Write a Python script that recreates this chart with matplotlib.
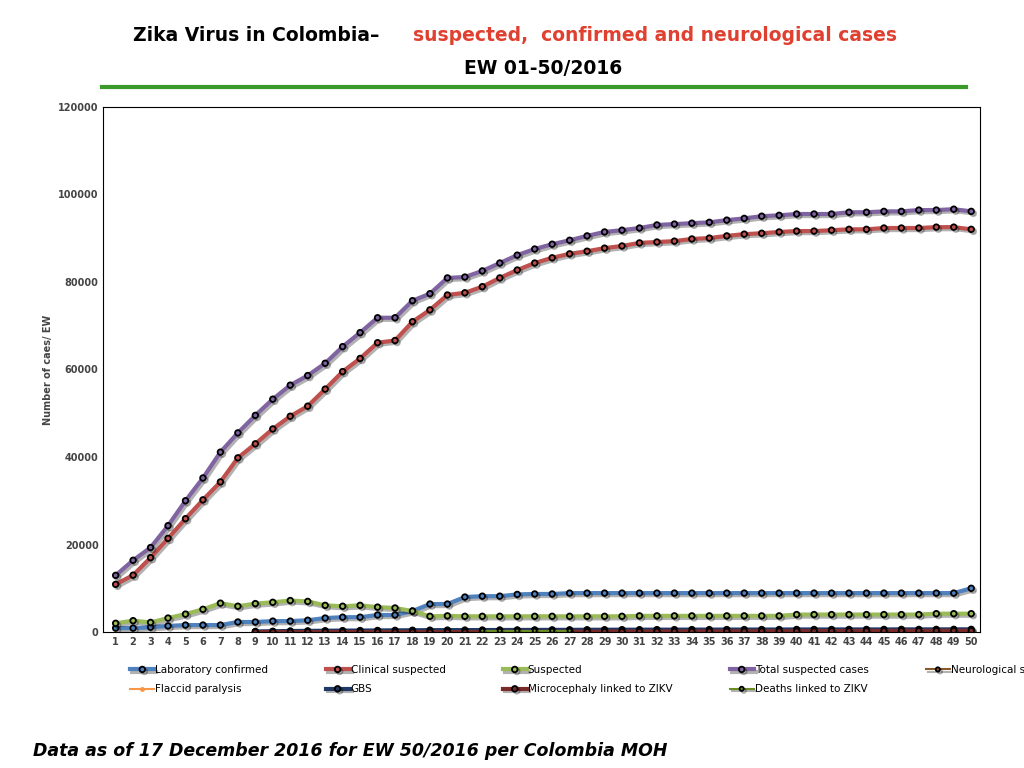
import matplotlib.pyplot as plt
import matplotlib.patheffects as pe

weeks = list(range(1, 51))
lab_confirmed = [900, 900, 1100, 1400, 1600, 1600, 1600, 2300, 2300, 2500,
                 2500, 2700, 3200, 3400, 3400, 3900, 3900, 4800, 6400, 6400,
                 8000, 8200, 8200, 8600, 8700, 8700, 8900, 8900, 8900, 8900,
                 8900, 8900, 8900, 8900, 8900, 8900, 8900, 8900, 8900, 8900,
                 8900, 8900, 8900, 8900, 8900, 8900, 8900, 8900, 8900, 10000]
clinical = [10900, 13000, 17000, 21400, 25900, 30200, 34300, 39800, 43000, 46400,
            49300, 51600, 55500, 59500, 62500, 66100, 66600, 70900, 73600, 77000,
            77500, 78900, 80900, 82700, 84300, 85500, 86400, 87000, 87700, 88200,
            88900, 89100, 89300, 89800, 90000, 90500, 90900, 91100, 91400, 91600,
            91600, 91800, 92000, 92000, 92300, 92300, 92300, 92500, 92500, 92000]
suspected = [2000, 2600, 2200, 3200, 4100, 5200, 6600, 5900, 6500, 6800,
             7200, 7000, 6100, 5900, 6100, 5700, 5500, 4800, 3600, 3700,
             3600, 3600, 3600, 3600, 3600, 3600, 3600, 3600, 3600, 3600,
             3700, 3700, 3700, 3700, 3700, 3700, 3700, 3700, 3700, 4000,
             4000, 4000, 4000, 4000, 4000, 4000, 4000, 4200, 4200, 4200]
total_suspected = [12950, 16400, 19300, 24300, 30000, 35200, 41100, 45500, 49500, 53200,
                   56400, 58600, 61400, 65200, 68400, 71800, 71800, 75700, 77300, 80900,
                   81100, 82500, 84300, 86100, 87500, 88600, 89500, 90500, 91400, 91800,
                   92300, 93000, 93200, 93400, 93600, 94100, 94500, 95000, 95200, 95500,
                   95500, 95500, 95900, 95900, 96100, 96100, 96400, 96400, 96600, 96100]
neuro_weeks = list(range(9, 51))
neurological = [200, 250, 300, 330, 360, 390, 410, 430, 450, 470, 490, 500, 510, 520,
                530, 540, 550, 560, 570, 580, 590, 600, 600, 610, 610, 620, 620, 630,
                630, 640, 640, 650, 650, 650, 660, 660, 660, 670, 670, 670, 680, 680]
gbs = [v - 60 for v in neurological]
microcephaly = [0, 0, 0, 0, 0, 0, 0, 0, 0, 0, 0, 0, 0, 20, 30, 40, 50, 60, 70, 80, 90,
                100, 110, 120, 130, 140, 150, 160, 170, 180, 190, 200, 210, 220, 230,
                240, 250, 260, 270, 280, 290, 300]
deaths_weeks = [22, 23, 24, 25, 26, 27]
deaths = [300, 300, 300, 300, 300, 300]

fig = plt.figure(figsize=(10.24, 7.68), dpi=100)
ax = fig.add_axes([0.101, 0.177, 0.856, 0.684])
shadow = [pe.SimpleLineShadow(offset=(1.5, -1.5), alpha=0.3), pe.Normal()]

def draw(x, y, color, label, lw=3, ms=4, mfc=None):
    return ax.plot(x, y, color=color, lw=lw, marker='o', ms=ms, mec='black', mew=1.3,
                   mfc=mfc or color, label=label, path_effects=shadow)[0]

h = []
h.append(draw(weeks, lab_confirmed, '#4f81bd', 'Laboratory confirmed'))
h.append(draw(weeks, clinical, '#c0504d', 'Clinical suspected'))
h.append(draw(weeks, suspected, '#9bbb59', 'Suspected'))
h.append(draw(weeks, total_suspected, '#8064a2', 'Total suspected cases'))
h.append(draw(neuro_weeks, neurological, '#8b5a2b', 'Neurological symptoms', lw=1.5, ms=3))
h.append(ax.plot([], [], color='#f79646', lw=1.5, marker='o', ms=2.5, label='Flaccid paralysis')[0])
h.append(draw(neuro_weeks, gbs, '#1f3864', 'GBS'))
h.append(draw(neuro_weeks, microcephaly, '#7b2a2a', 'Microcephaly linked to ZIKV'))
h.append(draw(deaths_weeks, deaths, '#6b8e23', 'Deaths linked to ZIKV', lw=1.5, ms=3))

ax.set_xlim(0.3, 50.5)
ax.set_ylim(0, 120000)
ax.set_xticks(weeks)
ax.set_yticks(range(0, 120001, 20000))
ax.tick_params(length=0, labelsize=7)
for s in ax.spines.values():
    s.set_linewidth(0.8)
for t in ax.get_xticklabels() + ax.get_yticklabels():
    t.set_fontweight('bold')
    t.set_color('#444444')
ax.set_ylabel('Number of caes/ EW', fontsize=7, fontweight='bold', color='#444444')

order = [0, 5, 1, 6, 2, 7, 3, 8, 4]
ax.legend([h[i] for i in order], [h[i].get_label() for i in order],
          loc='upper left', bbox_to_anchor=(0.02, -0.045), ncol=5, frameon=False,
          fontsize=7.5, handlelength=2.3, handletextpad=0.1, columnspacing=5.5,
          labelspacing=0.9)

fig.text(0.13, 0.946, 'Zika Virus in Colombia\u2013', fontsize=13.5, fontweight='bold')
fig.text(0.403, 0.946, 'suspected,  confirmed and neurological cases', fontsize=13.5,
         fontweight='bold', color='#e0402f')
fig.text(0.53, 0.903, 'EW 01-50/2016', fontsize=13.5, fontweight='bold', ha='center')
fig.add_artist(plt.Line2D([0.1, 0.943], [0.887, 0.887], color='#3a9a2a', lw=3))
fig.text(0.032, 0.015, 'Data as of 17 December 2016 for EW 50/2016 per Colombia MOH',
         fontsize=12.5, fontweight='bold', style='italic')

fig.savefig('out.png')
